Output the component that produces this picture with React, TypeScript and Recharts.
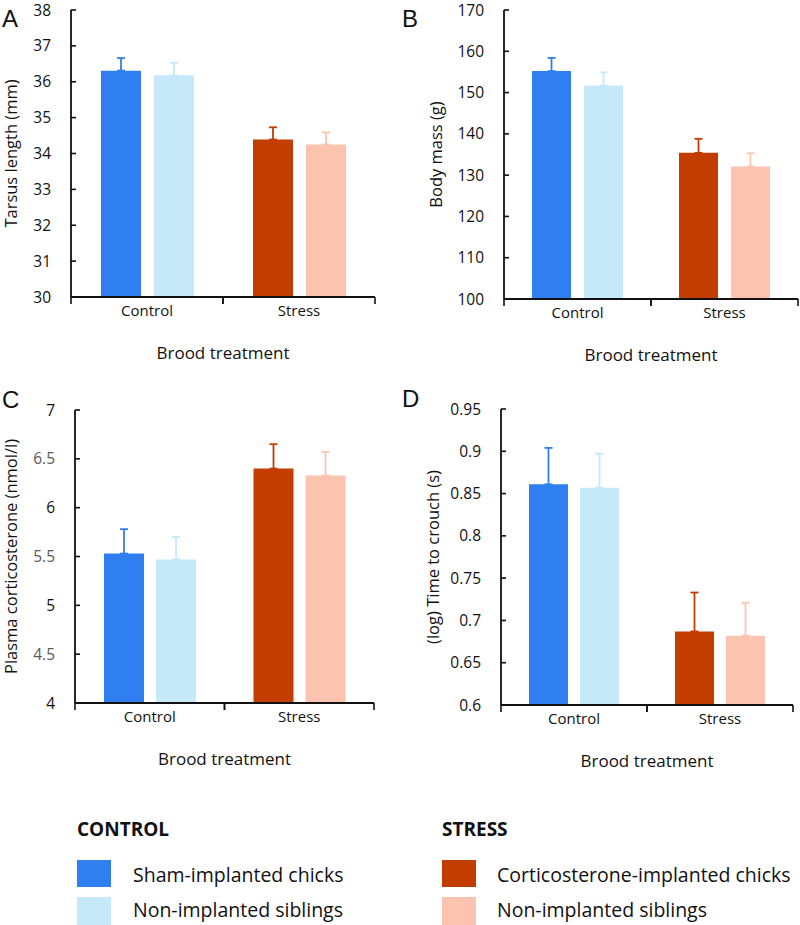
import React from "react";
import { BarChart, Bar, XAxis, YAxis, ErrorBar, Cell } from "recharts";

const groups = ["Control", "Stress"];

// A – tarsus length (mm)
const tarsusSham = [36.31, 34.39];
const tarsusShamErr = [0.35, 0.34];
const tarsusSib = [36.18, 34.25];
const tarsusSibErr = [0.35, 0.34];
const tarsusTicks = [30, 31, 32, 33, 34, 35, 36, 37, 38];

// B – body mass (g)
const massSham = [155.2, 135.4];
const massShamErr = [3.2, 3.4];
const massSib = [151.7, 132.1];
const massSibErr = [3.2, 3.2];
const massTicks = [100, 110, 120, 130, 140, 150, 160, 170];

// C – plasma corticosterone (nmol/l)
const corticoSham = [5.53, 6.4];
const corticoShamErr = [0.25, 0.25];
const corticoSib = [5.47, 6.33];
const corticoSibErr = [0.23, 0.24];
const corticoTicks = [4, 4.5, 5, 5.5, 6, 6.5, 7];

// D – (log) time to crouch (s)
const crouchSham = [0.861, 0.687];
const crouchShamErr = [0.043, 0.046];
const crouchSib = [0.857, 0.682];
const crouchSibErr = [0.04, 0.039];
const crouchTicks = [0.6, 0.65, 0.7, 0.75, 0.8, 0.85, 0.9, 0.95];

const CTRL = "#2f7ff0";
const CTRL_SIB = "#c6e9fa";
const STR = "#c33c00";
const STR_SIB = "#fcc4ae";
const INK = "#111";
const FONT = "'Open Sans', 'Noto Sans', sans-serif";

type PanelProps = {
  sham: number[];
  shamErr: number[];
  sib: number[];
  sibErr: number[];
  ticks: number[];
  yLabel: string;
  left: number;
  top: number;
  margin: { top: number; right: number; bottom: number; left: number };
  yWidth: number;
  barSize: number;
  barGap: number;
  labelX: number;
  grayHalves?: boolean;
};

function XTick({ x, y, payload }: any) {
  const half = payload?.offset ?? 0;
  return (
    <g>
      <line x1={x - half} x2={x - half} y1={y} y2={y + 7} stroke={INK} strokeWidth={1.6} />
      <line x1={x + half} x2={x + half} y1={y} y2={y + 7} stroke={INK} strokeWidth={1.6} />
      <text x={x} y={y + 18.5} textAnchor="middle" fontSize={15} fontFamily={FONT} fill={INK}>
        {payload.value}
      </text>
    </g>
  );
}

function Panel(p: PanelProps) {
  const rows = groups.map((g, i) => ({
    group: g,
    sham: p.sham[i],
    sib: p.sib[i],
    shamErrC: i === 0 ? [0, p.shamErr[i]] : null,
    shamErrS: i === 1 ? [0, p.shamErr[i]] : null,
    sibErrC: i === 0 ? [0, p.sibErr[i]] : null,
    sibErrS: i === 1 ? [0, p.sibErr[i]] : null,
  }));
  const lo = p.ticks[0];
  const hi = p.ticks[p.ticks.length - 1];

  const YTick = ({ x, y, payload }: any) => {
    const half = p.grayHalves && Math.round(payload.value * 10) % 10 !== 0;
    return (
      <text x={x} y={y} dy={5.5} textAnchor="end" fontSize={15.5} fontFamily={FONT} fill={half ? "#5a5a5a" : INK}>
        {payload.value}
      </text>
    );
  };

  return (
    <div style={{ position: "absolute", left: p.left, top: p.top }}>
      <BarChart
        width={400}
        height={390}
        data={rows}
        margin={p.margin}
        barSize={p.barSize}
        barGap={p.barGap}
      >
        <XAxis
          dataKey="group"
          height={70}
          tickLine={false}
          tickSize={0}
          tickMargin={0}
          axisLine={{ stroke: INK, strokeWidth: 1.8 }}
          tick={<XTick />}
          label={{
            content: ({ viewBox }: any) => (
              <text
                x={viewBox.x + viewBox.width / 2}
                y={viewBox.y + 62}
                textAnchor="middle"
                fontSize={17}
                fontFamily={FONT}
                fill={INK}
              >
                Brood treatment
              </text>
            ),
          }}
        />
        <YAxis
          width={p.yWidth}
          domain={[lo, hi]}
          ticks={p.ticks}
          interval={0}
          tickSize={-5}
          tickMargin={25}
          tickLine={{ stroke: INK, strokeWidth: 1.6 }}
          axisLine={{ stroke: INK, strokeWidth: 1.8 }}
          tick={<YTick />}
          label={{
            content: ({ viewBox }: any) => {
              const cx = viewBox.x + p.labelX;
              const cy = viewBox.y + viewBox.height / 2;
              return (
                <text
                  x={cx}
                  y={cy}
                  transform={`rotate(-90, ${cx}, ${cy})`}
                  textAnchor="middle"
                  dominantBaseline="middle"
                  fontSize={16.5}
                  fontFamily={FONT}
                  fill={INK}
                >
                  {p.yLabel}
                </text>
              );
            },
          }}
        />
        <Bar dataKey="sham" isAnimationActive={false}>
          <Cell fill={CTRL} />
          <Cell fill={STR} />
          <ErrorBar dataKey="shamErrC" width={4} stroke={CTRL} strokeWidth={1.8} isAnimationActive={false} />
          <ErrorBar dataKey="shamErrS" width={4} stroke={STR} strokeWidth={1.8} isAnimationActive={false} />
        </Bar>
        <Bar dataKey="sib" isAnimationActive={false}>
          <Cell fill={CTRL_SIB} />
          <Cell fill={STR_SIB} />
          <ErrorBar dataKey="sibErrC" width={4} stroke={CTRL_SIB} strokeWidth={1.8} isAnimationActive={false} />
          <ErrorBar dataKey="sibErrS" width={4} stroke={STR_SIB} strokeWidth={1.8} isAnimationActive={false} />
        </Bar>
      </BarChart>
    </div>
  );
}

function Overlay() {
  const letter = { fontSize: 24, fontFamily: "'Liberation Sans', Arial, sans-serif", fill: INK };
  const head = { fontSize: 19, fontWeight: 700, fontFamily: FONT, fill: INK };
  const item = { fontSize: 19.5, fontFamily: FONT, fill: INK };
  return (
    <svg
      width={800}
      height={925}
      style={{ position: "absolute", left: 0, top: 0, pointerEvents: "none" }}
    >
      <text x={2} y={27} {...letter}>A</text>
      <text x={402} y={27} {...letter}>B</text>
      <text x={2} y={408} {...letter}>C</text>
      <text x={402} y={407} {...letter}>D</text>

      <text x={77} y={836} {...head}>CONTROL</text>
      <rect x={77} y={860} width={34} height={27} fill={CTRL} />
      <text x={133} y={882} {...item}>Sham-implanted chicks</text>
      <rect x={77} y={897} width={34} height={28} fill={CTRL_SIB} />
      <text x={133} y={917} {...item}>Non-implanted siblings</text>

      <text x={442} y={836} {...head}>STRESS</text>
      <rect x={442} y={860} width={34} height={27} fill={STR} />
      <text x={497} y={882} {...item}>Corticosterone-implanted chicks</text>
      <rect x={442} y={897} width={34} height={28} fill={STR_SIB} />
      <text x={497} y={917} {...item}>Non-implanted siblings</text>
    </svg>
  );
}

export default function App() {
  return (
    <div
      style={{
        position: "absolute",
        left: 0,
        top: 0,
        width: 800,
        height: 925,
        background: "#fff",
        overflow: "hidden",
      }}
    >
      <Panel
        sham={tarsusSham}
        shamErr={tarsusShamErr}
        sib={tarsusSib}
        sibErr={tarsusSibErr}
        ticks={tarsusTicks}
        yLabel="Tarsus length (mm)"
        left={0}
        top={0}
        margin={{ top: 10, right: 25, bottom: 23, left: 0 }}
        yWidth={71}
        barSize={40}
        barGap={13}
        labelX={13}
      />
      <Panel
        sham={massSham}
        shamErr={massShamErr}
        sib={massSib}
        sibErr={massSibErr}
        ticks={massTicks}
        yLabel="Body mass (g)"
        left={400}
        top={0}
        margin={{ top: 10, right: 2, bottom: 21, left: 0 }}
        yWidth={104}
        barSize={39}
        barGap={13}
        labelX={38}
      />
      <Panel
        sham={corticoSham}
        shamErr={corticoShamErr}
        sib={corticoSib}
        sibErr={corticoSibErr}
        ticks={corticoTicks}
        yLabel="Plasma corticosterone (nmol/l)"
        left={0}
        top={390}
        margin={{ top: 20, right: 26, bottom: 7, left: 0 }}
        yWidth={75}
        barSize={40}
        barGap={12}
        labelX={13}
        grayHalves
      />
      <Panel
        sham={crouchSham}
        shamErr={crouchShamErr}
        sib={crouchSib}
        sibErr={crouchSibErr}
        ticks={crouchTicks}
        yLabel="(log) Time to crouch (s)"
        left={400}
        top={390}
        margin={{ top: 19, right: 7, bottom: 5, left: 0 }}
        yWidth={101}
        barSize={39}
        barGap={12}
        labelX={35}
      />
      <Overlay />
    </div>
  );
}
